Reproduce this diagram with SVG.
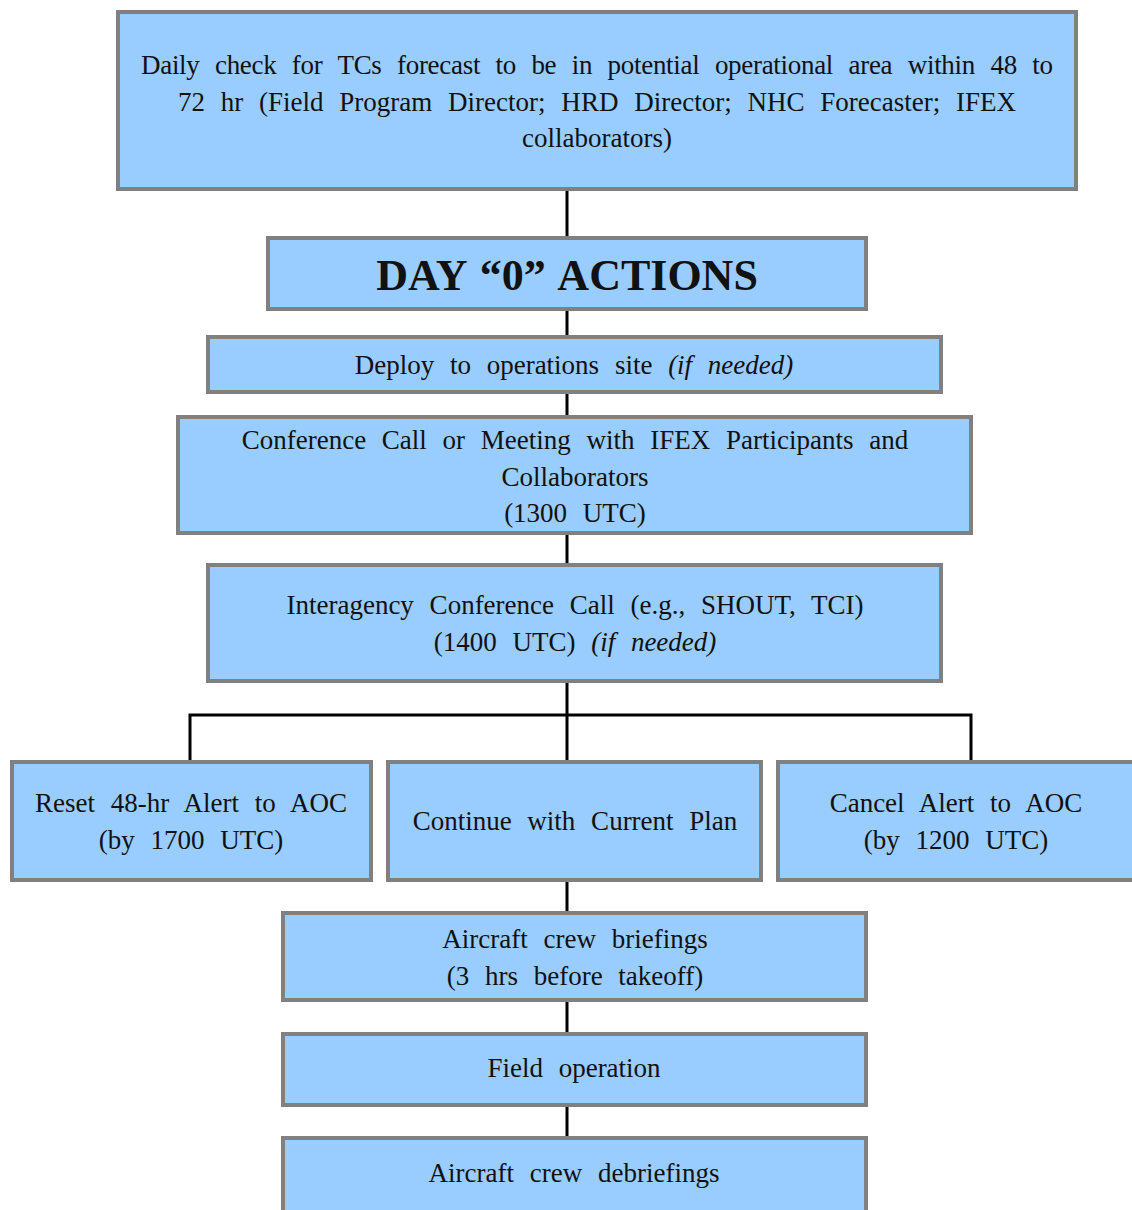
<svg xmlns="http://www.w3.org/2000/svg" width="1132" height="1210" viewBox="0 0 1132 1210">
<style>
.box{fill:#99CCFF;stroke:#808080;stroke-width:4}
.t{font-family:"Liberation Serif","Times New Roman",serif;font-size:27px;fill:#111;text-anchor:middle;word-spacing:9px}
.h{font-family:"Liberation Serif","Times New Roman",serif;font-size:44px;font-weight:bold;fill:#111;text-anchor:middle;word-spacing:3px}
.i{font-style:italic}
.c{stroke:#000;stroke-width:3;fill:none}
</style>
<rect width="1132" height="1210" fill="#fff"/>
<g id="connectors">
<line class="c" x1="567" y1="176" x2="567" y2="236"/>
<line class="c" x1="567" y1="311" x2="567" y2="335"/>
<line class="c" x1="567" y1="394" x2="567" y2="415"/>
<line class="c" x1="567" y1="535" x2="567" y2="563"/>
<line class="c" x1="567" y1="683" x2="567" y2="760"/>
<polyline class="c" points="190,760 190,715 971,715 971,760"/>
<line class="c" x1="567" y1="882" x2="567" y2="911"/>
<line class="c" x1="567" y1="1002" x2="567" y2="1032"/>
<line class="c" x1="567" y1="1107" x2="567" y2="1136"/>
</g>
<g id="n1"><rect class="box" x="118" y="12" width="958" height="177"/>
<text class="t" x="597" y="74" textLength="912" lengthAdjust="spacing">Daily check for TCs forecast to be in potential operational area within 48 to</text>
<text class="t" x="597" y="111" textLength="838" lengthAdjust="spacing">72 hr (Field Program Director; HRD Director; NHC Forecaster; IFEX</text>
<text class="t" x="597" y="147">collaborators)</text></g>
<g id="n2"><rect class="box" x="268" y="238" width="598" height="71"/>
<text class="h" x="567" y="290">DAY “0” ACTIONS</text></g>
<g id="n3"><rect class="box" x="208" y="337" width="733" height="55"/>
<text class="t" x="574" y="374">Deploy to operations site <tspan class="i">(if needed)</tspan></text></g>
<g id="n4"><rect class="box" x="178" y="417" width="793" height="116"/>
<text class="t" x="575" y="449">Conference Call or Meeting with IFEX Participants and</text>
<text class="t" x="575" y="486">Collaborators</text>
<text class="t" x="575" y="522">(1300 UTC)</text></g>
<g id="n5"><rect class="box" x="208" y="565" width="733" height="116"/>
<text class="t" x="575" y="614">Interagency Conference Call (e.g., SHOUT, TCI)</text>
<text class="t" x="575" y="651">(1400 UTC) <tspan class="i">(if needed)</tspan></text></g>
<g id="n6"><rect class="box" x="12" y="762" width="359" height="118"/>
<text class="t" x="191" y="812">Reset 48-hr Alert to AOC</text>
<text class="t" x="191" y="849">(by 1700 UTC)</text></g>
<g id="n7"><rect class="box" x="388" y="762" width="373" height="118"/>
<text class="t" x="575" y="830">Continue with Current Plan</text></g>
<g id="n8"><rect class="box" x="778" y="762" width="360" height="118"/>
<text class="t" x="956" y="812">Cancel Alert to AOC</text>
<text class="t" x="956" y="849">(by 1200 UTC)</text></g>
<g id="n9"><rect class="box" x="283" y="913" width="583" height="87"/>
<text class="t" x="575" y="948">Aircraft crew briefings</text>
<text class="t" x="575" y="985">(3 hrs before takeoff)</text></g>
<g id="n10"><rect class="box" x="283" y="1034" width="583" height="71"/>
<text class="t" x="574" y="1077">Field operation</text></g>
<g id="n11"><rect class="box" x="283" y="1138" width="583" height="80"/>
<text class="t" x="574" y="1182">Aircraft crew debriefings</text></g>
</svg>
